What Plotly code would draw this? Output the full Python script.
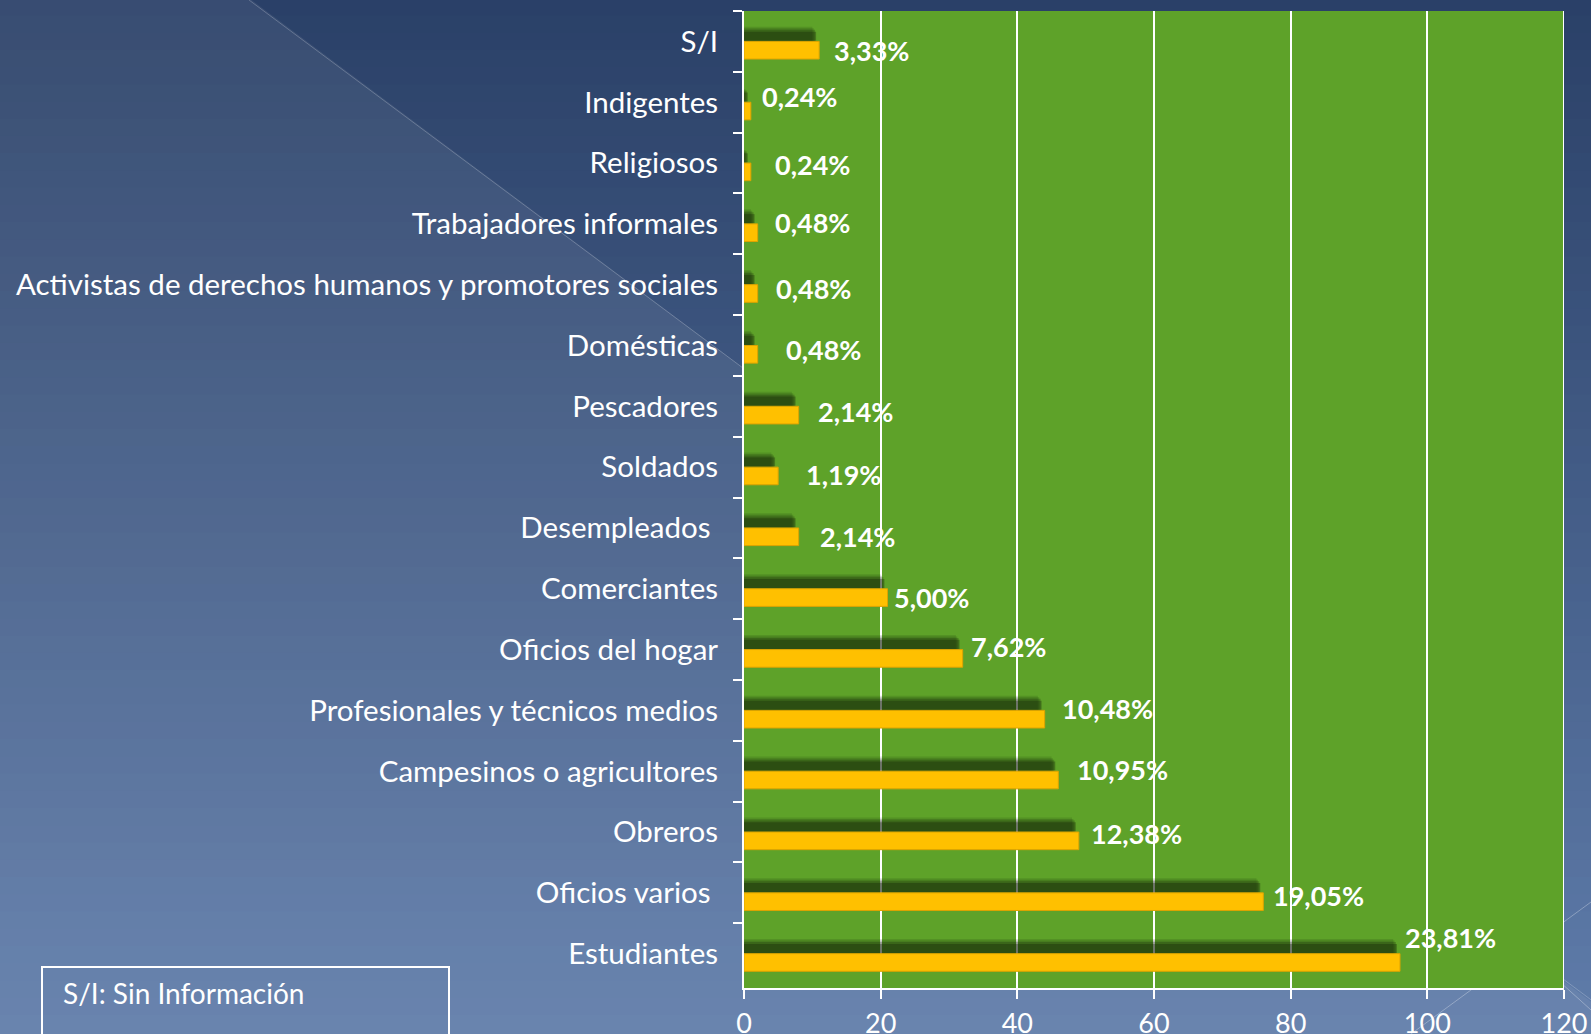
import plotly.graph_objects as go

# ---------------- data (top to bottom as in the chart) ----------------
categories = [
    "S/I",
    "Indigentes",
    "Religiosos",
    "Trabajadores informales",
    "Activistas de derechos humanos y promotores sociales",
    "Domésticas",
    "Pescadores",
    "Soldados",
    "Desempleados\u00a0",
    "Comerciantes",
    "Oficios del hogar",
    "Profesionales y técnicos medios",
    "Campesinos o agricultores",
    "Obreros",
    "Oficios varios\u00a0",
    "Estudiantes",
]
values = [11, 1, 1, 2, 2, 2, 8, 5, 8, 21, 32, 44, 46, 49, 76, 96]
pct_labels = ["3,33%", "0,24%", "0,24%", "0,48%", "0,48%", "0,48%", "2,14%", "1,19%",
              "2,14%", "5,00%", "7,62%", "10,48%", "10,95%", "12,38%", "19,05%", "23,81%"]
x_ticks = [0, 20, 40, 60, 80, 100, 120]
note_text = "S/I: Sin Información"

# label nudges in pixels (style only): right of bar end, and downward from band centre
label_dx = [13, 9, 22, 15, 16, 26, 17, 25, 19, 4, 6, 15, 16, 10, 8, 3]
label_dy = [9, -6, 1, -1, 4, 4, 5, 7, 8, 8.5, -3, -2, -2, 1, 2.5, -15.6]

# ---------------- layout geometry ----------------
W, H = 1591, 1034
L, R, T, B = 744, 27, 11, 46
PW, PH = W - L - R, H - T - B
FONT = "Lato"
GREEN = "#5EA229"
GOLD = "#FFC000"


def px(x):
    return (x - L) / PW


def py(y):
    return (H - B - y) / PH


def lerp(c1, c2, t):
    return tuple(round(a + (b - a) * t) for a, b in zip(c1, c2))


shapes = []
# vertical gradient background
top_c, bot_c = (42, 64, 103), (95, 124, 170)
n = 60
for i in range(n):
    y0 = H * i / n - 2
    y1 = H * (i + 1) / n + 2
    c = lerp(top_c, bot_c, (i + 0.5) / n)
    shapes.append(dict(type="rect", xref="paper", yref="paper", layer="below",
                       x0=px(-20), x1=px(W + 20), y0=py(y1), y1=py(y0),
                       fillcolor="rgb(%d,%d,%d)" % c, line=dict(width=0)))
# lighter triangle at left
shapes.append(dict(type="path", xref="paper", yref="paper", layer="below",
                   path="M %f,%f L %f,%f L %f,%f L %f,%f Z" % (
                       px(-20), py(-5), px(245), py(-5), px(245 + 1040 / 0.745), py(H + 5),
                       px(-20), py(H + 5)),
                   fillcolor="rgba(255,255,255,0.065)", line=dict(width=0)))
shapes.append(dict(type="line", xref="paper", yref="paper", layer="below",
                   x0=px(249), y0=py(0), x1=px(249 + 1034 / 0.745), y1=py(H),
                   line=dict(color="rgba(255,255,255,0.22)", width=1)))
# faint decorative lines bottom-right
shapes.append(dict(type="line", xref="paper", yref="paper", layer="below",
                   x0=px(1400), y0=py(1042), x1=px(1591), y1=py(902),
                   line=dict(color="rgba(255,255,255,0.3)", width=1)))
shapes.append(dict(type="line", xref="paper", yref="paper", layer="below",
                   x0=px(1560), y0=py(982), x1=px(1591), y1=py(1010),
                   line=dict(color="rgba(255,255,255,0.3)", width=1)))
# green plot area
shapes.append(dict(type="rect", xref="paper", yref="paper", layer="below",
                   x0=0, x1=1, y0=0, y1=1, fillcolor=GREEN, line=dict(width=0)))
# right border line at 120
shapes.append(dict(type="line", xref="x", yref="paper", layer="above",
                   x0=x_ticks[-1], x1=x_ticks[-1], y0=0, y1=1,
                   line=dict(color="white", width=2)))
# note box
shapes.append(dict(type="rect", xref="paper", yref="paper", layer="above",
                   x0=px(42), x1=px(449), y0=py(1045), y1=py(967),
                   fillcolor="rgba(0,0,0,0)", line=dict(color="white", width=2)))

fig = go.Figure()

# shadow layers (blurred dark band above each bar)
for off, wid, shrink, alpha in [(-0.25, 0.245, 1.0, 0.12), (-0.225, 0.22, 0.8, 0.16),
                                 (-0.2, 0.19, 0.6, 0.22), (-0.17, 0.15, 0.45, 0.3)]:
    fig.add_trace(go.Bar(
        y=categories, x=[max(v - shrink, 0) for v in values], orientation="h",
        offset=off + 0.01, width=wid,
        marker=dict(color="rgba(12,22,4,%.2f)" % alpha, line=dict(width=0)),
        hoverinfo="skip", showlegend=False))

# main bars
fig.add_trace(go.Bar(
    y=categories, x=values, orientation="h", offset=0.0, width=0.29,
    marker=dict(color=GOLD, line=dict(color="#DDA300", width=1)),
    showlegend=False, hovertemplate="%{y}: %{x}<extra></extra>"))

annotations = []
for cat, v, lab, dx, dy in zip(categories, values, pct_labels, label_dx, label_dy):
    annotations.append(dict(x=v, y=cat, xref="x", yref="y", text="<b>%s</b>" % lab,
                            showarrow=False, xanchor="left", yanchor="middle",
                            xshift=dx * 1.015, yshift=-dy * 1.015,
                            font=dict(family=FONT, size=27, color="white")))
annotations.append(dict(x=px(61), y=py(993), xref="paper", yref="paper", text=note_text,
                        showarrow=False, xanchor="left", yanchor="middle",
                        font=dict(family=FONT, size=28, color="white")))

fig.update_layout(
    width=W, height=H,
    margin=dict(l=L, r=R, t=T, b=B, pad=0, autoexpand=False),
    paper_bgcolor="#2A4067",
    plot_bgcolor="rgba(0,0,0,0)",
    barmode="overlay",
    shapes=shapes,
    annotations=annotations,
    font=dict(family=FONT, color="white"),
    xaxis=dict(range=[x_ticks[0], x_ticks[-1]], tickvals=x_ticks, showgrid=True,
               gridcolor="white", gridwidth=1.5, zeroline=False, automargin=False,
               showline=True, linecolor="white", linewidth=2,
               ticks="outside", ticklen=9, tickwidth=2, tickcolor="white",
               tickfont=dict(family=FONT, size=27, color="white"), ticklabelstandoff=2),
    yaxis=dict(categoryorder="array", categoryarray=categories, autorange="reversed",
               showgrid=False, zeroline=False, showline=True, linecolor="white", linewidth=2,
               automargin=False,
               ticks="outside", tickson="boundaries", ticklen=9, tickwidth=2, tickcolor="white",
               tickfont=dict(family=FONT, size=29.5, color="white"), ticklabelstandoff=18),
)

fig.write_html(
    "out.html",
    config={"displayModeBar": False},
    post_script="document.body.style.margin='0';document.body.style.overflow='hidden';"
                "document.body.style.background='#5A78A6';",
)
